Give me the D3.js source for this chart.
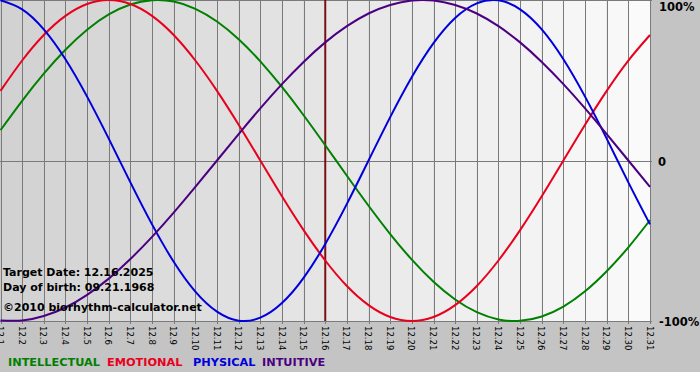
<!DOCTYPE html>
<html><head><meta charset="utf-8">
<script src="https://cdn.jsdelivr.net/npm/d3@7"></script>
<style>
html,body{margin:0;padding:0;background:#fff;}
svg{display:block;}
</style></head>
<body>
<script>
// ---- data ----
const days = ["12.1","12.2","12.3","12.4","12.5","12.6","12.7","12.8","12.9","12.10","12.11","12.12","12.13","12.14","12.15","12.16","12.17","12.18","12.19","12.20","12.21","12.22","12.23","12.24","12.25","12.26","12.27","12.28","12.29","12.30","12.31"];
const physical = [0.998,0.942,0.817,0.631,0.398,0.136,-0.136,-0.398,-0.631,-0.817,-0.942,-0.998,-0.979,-0.888,-0.731,-0.520,-0.270,0,0.270,0.520,0.731,0.888,0.979,0.998,0.942,0.817,0.631,0.398,0.136,-0.136,-0.398];
const emotional = [0.434,0.623,0.782,0.901,0.975,1.0,0.975,0.901,0.782,0.623,0.434,0.223,0,-0.223,-0.434,-0.623,-0.782,-0.901,-0.975,-1.0,-0.975,-0.901,-0.782,-0.623,-0.434,-0.223,0,0.223,0.434,0.623,0.782];
const intellectual = [0.189,0.372,0.541,0.690,0.815,0.910,0.972,0.999,0.990,0.945,0.866,0.756,0.618,0.458,0.282,0.095,-0.095,-0.282,-0.458,-0.618,-0.756,-0.866,-0.945,-0.990,-0.999,-0.972,-0.910,-0.815,-0.690,-0.541,-0.372];
const intuitive = [-0.997,-0.997,-0.969,-0.916,-0.837,-0.736,-0.614,-0.476,-0.325,-0.165,0,0.165,0.325,0.476,0.614,0.736,0.837,0.916,0.969,0.997,0.997,0.969,0.916,0.837,0.736,0.614,0.476,0.325,0.165,0,-0.165];
const yTickValues = [1, 0, -1];
const yTickLabels = ["100%", "0", "-100%"];
const targetDay = "12.16";
const legendNames = ["INTELLECTUAL","EMOTIONAL","PHYSICAL","INTUITIVE"];
const infoLines = ["Target Date: 12.16.2025","Day of birth: 09.21.1968","\u00A92010 biorhythm-calculator.net"];

// ---- styles ----
const seriesDefs = [
  {name:"INTELLECTUAL", values:intellectual, color:"#008000", lx:8},
  {name:"EMOTIONAL", values:emotional, color:"#e8001c", lx:107},
  {name:"PHYSICAL", values:physical, color:"#0000dd", lx:193},
  {name:"INTUITIVE", values:intuitive, color:"#4b0082", lx:262}
];

const W = 700, H = 380;
const svg = d3.select("body").append("svg").attr("width", W).attr("height", H);

svg.append("rect").attr("x",0).attr("y",0).attr("width",W).attr("height",372).attr("fill","#c4c4c4");

const x = d3.scalePoint().domain(days).range([0.5, 650]);
const y = d3.scaleLinear().domain([-1, 1]).range([321, 0]);

// background bands (gradient)
const shade = d3.scaleLinear().domain([0, days.length-1]).range(["#d2d2d2", "#fbfbfb"]);
const step = x.step();
svg.append("g").selectAll("rect").data(days).join("rect")
  .attr("x", (d,i) => Math.max(0, x(d)))
  .attr("y", 0)
  .attr("width", (d,i) => i === days.length-1 ? 651 - x(d) : step)
  .attr("height", 321)
  .attr("fill", (d,i) => shade(i));

// vertical grid lines + tick marks
svg.append("g").selectAll("line").data(days).join("line")
  .attr("x1", d => Math.round(x(d)) + 0.5).attr("x2", d => Math.round(x(d)) + 0.5)
  .attr("y1", 0).attr("y2", 324)
  .attr("stroke", "#7a7a7a").attr("stroke-width", 1);

// horizontal lines
svg.append("g").selectAll("line").data(yTickValues).join("line")
  .attr("x1", 0).attr("x2", 652)
  .attr("y1", d => Math.round(y(d)) + 0.5).attr("y2", d => Math.round(y(d)) + 0.5)
  .attr("stroke", "#7a7a7a").attr("stroke-width", 1);

// target line
svg.append("line")
  .attr("x1", x(targetDay)).attr("x2", x(targetDay))
  .attr("y1", 0).attr("y2", 321)
  .attr("stroke", "#7a1010").attr("stroke-width", 2);

// curves
const line = d3.line().x((d,i) => x(days[i])).y(d => y(d)).curve(d3.curveNatural);
svg.append("defs").append("clipPath").attr("id","clip")
  .append("rect").attr("x",0).attr("y",-1).attr("width",652).attr("height",323);
const cg = svg.append("g").attr("clip-path","url(#clip)");
seriesDefs.forEach(s => {
  cg.append("path").attr("d", line(s.values))
    .attr("fill","none").attr("stroke", s.color).attr("stroke-width", 2)
    .attr("stroke-linejoin","round");
});

// x tick labels (rotated)
svg.append("g").selectAll("text").data(days).join("text")
  .attr("transform", d => `translate(${x(d)},326) rotate(90)`)
  .attr("dy", "0.36em")
  .attr("font-family", "'DejaVu Sans Condensed','DejaVu Sans',sans-serif")
  .attr("font-size", 9.5)
  .attr("fill", "#000")
  .text(d => d);

// y labels on the right
const yLabelPos = [11, 166, 326];
svg.append("g").selectAll("text").data(yTickLabels).join("text")
  .attr("x", (d,i) => i === 1 ? 658 : 659)
  .attr("y", (d,i) => yLabelPos[i])
  .attr("font-family", "'DejaVu Sans',sans-serif")
  .attr("font-weight", "bold")
  .attr("font-size", 11.5)
  .attr("fill", "#000")
  .text(d => d);

// info text
const infoY = [276, 291, 311];
svg.append("g").selectAll("text").data(infoLines).join("text")
  .attr("x", 3).attr("y", (d,i) => infoY[i])
  .attr("font-family", "'DejaVu Sans',sans-serif")
  .attr("font-weight", "bold")
  .attr("font-size", 11)
  .attr("fill", "#000")
  .text(d => d);

// legend
svg.append("g").selectAll("text").data(seriesDefs).join("text")
  .attr("x", d => d.lx).attr("y", 366)
  .attr("font-family", "'DejaVu Sans',sans-serif")
  .attr("font-weight", "bold")
  .attr("font-size", 11.3)
  .attr("fill", d => d.color)
  .text((d,i) => legendNames[i]);
</script>
</body></html>
